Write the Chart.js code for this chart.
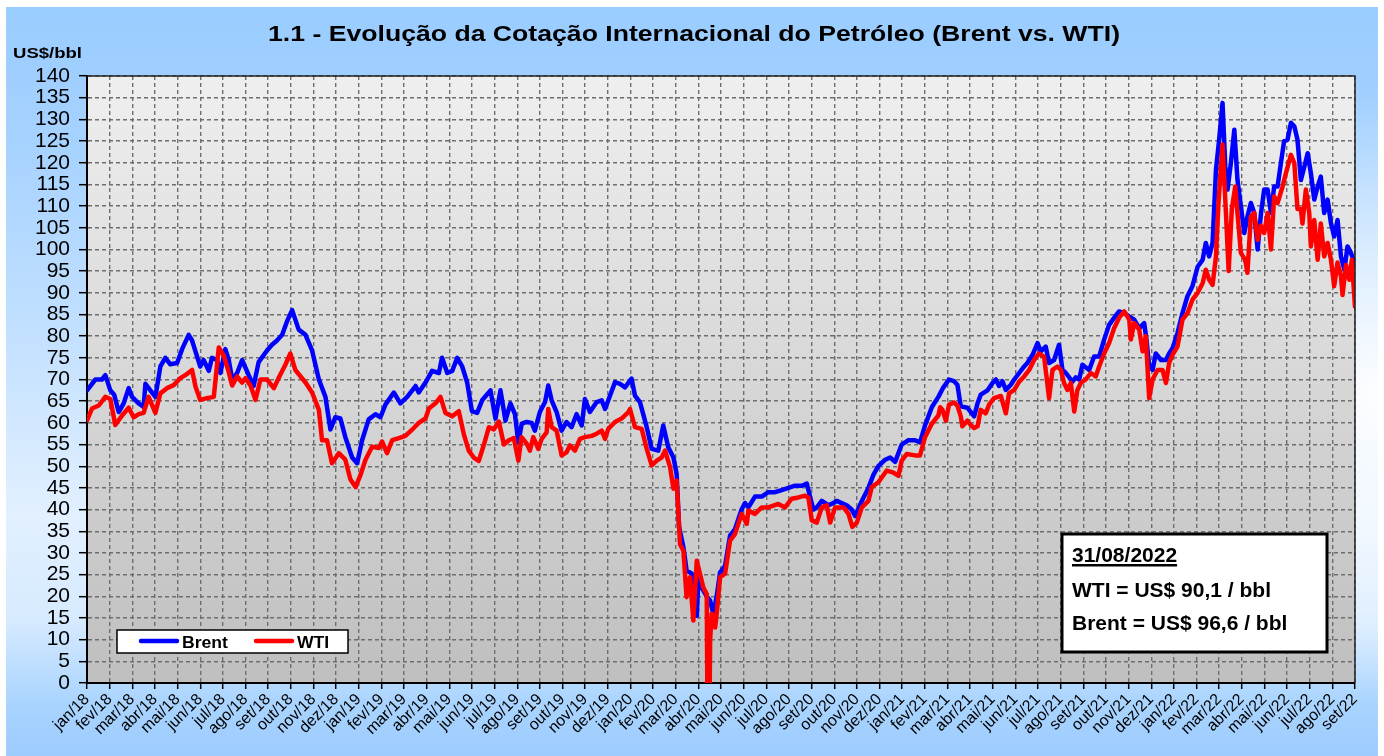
<!DOCTYPE html>
<html><head><meta charset="utf-8">
<script src="https://cdn.jsdelivr.net/npm/chart.js@4.4.0/dist/chart.umd.min.js"></script>
<style>
html,body{margin:0;padding:0;background:#fff;width:1384px;height:756px;overflow:hidden}
#bg{position:absolute;left:6px;top:7px;width:1372px;height:749px;
background:radial-gradient(ellipse 260px 300px at 100% 52%, rgba(255,255,255,0.95) 0%, rgba(255,255,255,0) 100%),
linear-gradient(180deg,#99ccff 0%,#a6d2ff 18%,#c4e1ff 45%,#e2f0ff 68%,#d6eaff 82%,#a9d4ff 93%,#9ccbfe 100%);}
#c{position:absolute;left:0;top:0}
</style></head><body><div id="bg"></div><canvas id="c" width="1384" height="756"></canvas>
<script>
const monthNames = ['jan','fev','mar','abr','mai','jun','jul','ago','set','out','nov','dez'];
const monthLabels = [];
for (let y = 18; y <= 22; y++) for (let m = 0; m < 12; m++) { if (y === 22 && m > 8) break; monthLabels.push(monthNames[m] + '/' + y); }

const titleText = '1.1 - Evolução da Cotação Internacional do Petróleo (Brent vs. WTI)';
const unitText = 'US$/bbl';
const noteLines = ['31/08/2022', 'WTI = US$ 90,1 / bbl', 'Brent = US$ 96,6 / bbl'];
const seriesNames = ['Brent', 'WTI'];

// positions in months since jan/18
const brentMonths = [0,0.37,0.66,0.81,1.03,1.2,1.4,1.62,1.84,1.99,2.28,2.5,2.58,3.02,3.24,3.46,3.68,3.98,4.2,4.49,4.64,4.79,5.0,5.15,5.38,5.52,5.74,5.89,6.11,6.26,6.41,6.63,6.85,7.14,7.36,7.58,7.95,8.17,8.39,8.62,8.84,9.06,9.35,9.65,9.94,10.24,10.53,10.75,10.97,11.19,11.41,11.71,11.93,12.15,12.44,12.74,12.96,13.18,13.55,13.84,14.14,14.51,14.65,14.95,15.24,15.54,15.68,15.91,16.13,16.35,16.57,16.79,17.0,17.23,17.45,17.82,18.04,18.26,18.48,18.7,18.9,19.05,19.2,19.42,19.64,19.78,20.0,20.23,20.37,20.52,20.74,20.96,21.18,21.4,21.62,21.85,21.99,22.21,22.51,22.73,22.88,23.1,23.32,23.54,23.76,24.05,24.2,24.42,24.72,24.94,25.23,25.45,25.67,25.9,26.04,26.15,26.34,26.48,26.71,26.83,26.93,27.0,27.15,27.37,27.52,27.66,27.81,27.96,28.18,28.4,28.62,28.91,29.06,29.21,29.5,29.8,30.09,30.39,30.68,30.98,31.27,31.57,31.79,31.93,32.08,32.23,32.45,32.74,32.96,33.11,33.33,33.55,33.77,33.92,34.22,34.51,34.73,34.95,35.25,35.47,35.69,35.98,36.28,36.57,36.79,37.01,37.31,37.6,37.8,38.07,38.29,38.44,38.59,38.88,39.18,39.33,39.47,39.77,39.99,40.14,40.28,40.43,40.58,40.8,40.95,41.17,41.39,41.53,41.76,41.98,42.12,42.34,42.49,42.71,42.93,43.08,43.23,43.52,43.67,43.82,43.96,44.26,44.48,44.7,44.92,45.14,45.36,45.58,45.81,46.03,46.25,46.47,46.69,46.79,46.91,47.06,47.2,47.43,47.65,47.79,47.94,48.16,48.38,48.6,48.82,49.05,49.27,49.41,49.56,49.71,49.86,50.0,50.15,50.27,50.37,50.52,50.67,50.81,50.96,51.11,51.25,51.4,51.55,51.7,51.85,51.99,52.14,52.29,52.43,52.58,52.73,52.87,53.02,53.17,53.32,53.46,53.61,53.76,53.91,54.05,54.2,54.35,54.49,54.64,54.79,54.94,55.08,55.23,55.38,55.53,55.67,55.82,56];
const brentValues = [67.5,70,70,71,67.5,66.5,62.5,64.5,68,66,64.5,63.7,69,66,73,75,73.5,73.8,77,80.3,79,76.5,73,74.5,72,75,74.5,71.5,77,74.5,70,71.5,74.5,71,68.5,74,76.7,78,79,80.3,83.5,86,81.5,80.3,76.7,70,66,58.5,61.3,61,56.7,52,50.7,56,60.8,62,61.3,64.2,67,64.5,66,68.5,67,69.3,72,71.5,75,71.5,72,75,73,69.3,62.7,62.3,65.2,67.5,61,67.5,60.5,64.5,62,55.5,59.8,60.2,60,58.2,62.5,64.8,68.6,65.2,62.5,58.2,60.2,59,62,59.4,65.5,62.5,64.8,65.2,63.2,66.3,69.4,69,68.2,70.2,66.3,64.8,59,54,53.6,59.4,54.4,52,48.2,36,31.3,26,25.2,22,15.5,24,22,20,19,16,20,25.5,27,34,35.5,40,41.5,40.5,43,43,44,44,44.5,45,45.5,45.5,46,43,40,40.5,42,41,41.5,42,41.5,41,40,38.5,42,45,48,50,51.5,52,51,55,56,56,55.5,59.4,63.6,66,68,70,69.6,68.8,63.8,63.5,61.5,64.5,66.5,67.5,69.2,70,68.5,69.6,67.6,68.8,70,71.5,73,73.8,75.7,78.4,76.5,77.6,73.8,74.5,78,72.2,71.5,69.5,70.5,70,73.4,72.2,75.3,75.3,79.2,82.6,84.2,85.7,85.3,84.5,83.8,81.8,83,79.2,73,72.2,76,74.5,74.5,76,77.2,80.7,85.3,89.2,91.5,96,97.6,101.5,98.4,101.5,118.4,125.3,133.8,119.2,113.8,120,127.6,116,110,103.8,107.6,110.7,108.4,100,108.4,113.8,113.8,108.4,114.5,114.5,120,125,125.3,129.2,128.4,125.3,116,119,122.2,117.6,111.5,114.5,116.8,108.4,111.5,106,103,106.8,98.4,95.3,100.7,99.2,96.6];

const wtiMonths = [0,0.22,0.52,0.81,1.03,1.25,1.55,1.84,2.06,2.28,2.5,2.72,3.02,3.24,3.53,3.83,4.12,4.34,4.64,4.79,5.0,5.3,5.6,5.82,6.04,6.26,6.41,6.63,6.85,7.0,7.22,7.44,7.66,7.95,8.25,8.47,8.76,8.98,9.2,9.65,9.94,10.24,10.38,10.6,10.82,11.12,11.41,11.63,11.86,12.08,12.3,12.59,12.89,13.03,13.25,13.48,13.77,14.06,14.43,14.65,14.95,15.1,15.39,15.61,15.83,16.13,16.42,16.64,16.86,17.08,17.3,17.53,17.75,17.97,18.19,18.41,18.63,18.85,19.05,19.19,19.42,19.56,19.71,19.93,20.08,20.3,20.37,20.52,20.74,20.96,21.18,21.33,21.55,21.77,21.99,22.29,22.51,22.73,22.88,23.02,23.32,23.61,23.91,23.98,24.2,24.5,24.72,24.94,25.16,25.38,25.53,25.75,25.9,26.04,26.19,26.34,26.48,26.63,26.78,26.93,27.07,27.22,27.37,27.44,27.52,27.59,27.74,27.81,27.96,28.18,28.4,28.62,28.91,29.14,29.21,29.5,29.8,30.09,30.53,30.83,31.12,31.42,31.71,31.86,32.01,32.23,32.45,32.67,32.82,33.04,33.41,33.63,33.8,34.0,34.22,34.51,34.66,34.95,35.32,35.62,35.84,35.98,36.2,36.57,36.79,37.01,37.31,37.6,37.68,37.78,37.93,38.07,38.29,38.44,38.59,38.66,38.88,39.03,39.18,39.33,39.47,39.69,39.84,40.06,40.36,40.58,40.72,40.95,41.17,41.39,41.61,41.83,42.05,42.27,42.49,42.64,42.86,43.01,43.15,43.3,43.45,43.6,43.74,43.89,44.11,44.33,44.55,44.7,44.92,45.14,45.36,45.58,45.81,46.03,46.1,46.25,46.47,46.62,46.76,46.91,47.06,47.28,47.5,47.65,47.79,47.94,48.16,48.38,48.6,48.82,49.05,49.27,49.41,49.56,49.71,49.86,49.97,50.15,50.3,50.42,50.56,50.71,50.81,50.96,51.15,51.25,51.4,51.55,51.7,51.84,51.99,52.14,52.29,52.43,52.58,52.8,52.95,53.17,53.32,53.46,53.61,53.68,53.83,53.98,54.05,54.2,54.35,54.49,54.64,54.79,54.94,55.08,55.23,55.38,55.45,55.6,55.75,55.86,56];
const wtiValues = [60.6,63.3,64,66,65.5,59.5,61.7,63.5,61.3,62,62.3,66,62.3,66.8,68,68.7,70.3,71,72.2,68.4,65.3,65.7,66,77.4,75.5,71.7,68.6,70.7,69.3,70.3,68.6,65.3,70,70,68,70.4,73.4,76,72.2,69.3,67,63,56,56,50.7,53,51.5,47,45.2,48,51.5,54.5,54.2,55.7,53,56,56.5,57,58.8,60,61,63.3,64.5,66,62.3,61.5,62.7,57.4,53.6,52,51.2,55,59,58.5,60.3,55,56,56.5,51.3,56.7,55.2,53.6,56.7,54,56.3,57.8,63.2,59,58.2,52.5,53.2,54.8,53.6,56.3,56.7,57,57.5,58.2,56.3,58.6,60.2,61,62.5,63.2,59,58.6,54,50.2,51.3,52,53.6,49.8,44.8,46.7,32,30.5,19.8,24.4,14.4,28.2,25.2,22,20.5,-37.6,10,16,12.8,16,24.4,25.2,32.8,34.4,39,36.7,39.8,39,40.5,40.5,41.3,40.5,42.5,42.8,43.2,42.8,37.5,37,40.5,41,37,40.5,40.5,39,36,37,40.5,42,45.2,46.3,49,48.5,47.8,51.3,52.8,52.5,52.5,56.7,59.8,61.7,63.6,63,60.5,64.2,64.7,64,61.5,59.2,60.5,59.5,58.8,59.2,63,62.2,64.2,65.7,66.2,62.2,66.8,67.6,69.5,70.7,72.2,74.5,76,75.2,65.7,72.2,73,72.2,69.2,67.6,69.2,62.6,67.6,69.2,70,71.5,70.7,73,76,78.4,81.8,84.2,85.7,83.8,79.2,83,81.5,76.5,80,65.7,70,72.2,72.2,69.2,73.8,75.7,77.6,83.8,85.3,88.4,90,92.2,95.3,93,91.8,98.4,110.7,124.2,108.4,95,109.3,114.5,108.4,99.2,97.6,94.6,107.6,108.4,102.2,105.5,103.8,108.4,100,112.2,110.7,114.5,117.6,121.8,119.9,109.3,109.3,106,113.8,108.4,100.7,106.8,97.6,106,98.4,101.5,97.6,91.5,97,93.8,89.5,96.4,93,97.6,86.8];

const pts = (xs, ys) => xs.map((x, i) => ({x: x, y: ys[i]}));
const FONT = "'Liberation Sans', Arial, sans-serif";

function sText(ctx, txt, x, y, font, sx, align) {
  ctx.save(); ctx.font = font; ctx.textBaseline = 'alphabetic'; ctx.textAlign = 'left';
  const w = ctx.measureText(txt).width * sx;
  const x0 = align === 'center' ? x - w / 2 : (align === 'right' ? x - w : x);
  ctx.translate(x0, y); ctx.scale(sx, 1); ctx.fillText(txt, 0, 0); ctx.restore();
  return w;
}

const deco = {
  id: 'deco',
  beforeDraw(chart) {
    const {ctx, chartArea: a} = chart;
    const g = ctx.createLinearGradient(0, a.top, 0, a.bottom);
    g.addColorStop(0, '#efefef'); g.addColorStop(1, '#bfbfbf');
    ctx.save(); ctx.fillStyle = g; ctx.fillRect(a.left, a.top, a.right - a.left, a.bottom - a.top); ctx.restore();
  },
  afterDraw(chart) {
    const {ctx, chartArea: a} = chart;
    ctx.save();
    ctx.strokeStyle = '#222'; ctx.lineWidth = 1.5;
    ctx.beginPath(); ctx.moveTo(a.left, a.top); ctx.lineTo(a.right, a.top); ctx.lineTo(a.right, a.bottom); ctx.stroke();
    ctx.fillStyle = '#000';
    ctx.font = 'bold 22px ' + FONT;
    const tw = ctx.measureText(titleText).width;
    sText(ctx, titleText, 694, 41, 'bold 22px ' + FONT, 852 / tw, 'center');
    ctx.font = 'bold 15px ' + FONT;
    const uw = ctx.measureText(unitText).width;
    sText(ctx, unitText, 13, 58, 'bold 15px ' + FONT, 69 / uw, 'left');
    // legend
    ctx.fillStyle = '#fff'; ctx.fillRect(117, 630, 231, 23);
    ctx.strokeStyle = '#000'; ctx.lineWidth = 1.5; ctx.strokeRect(117, 630, 231, 23);
    ctx.lineCap = 'round'; ctx.lineWidth = 4.5;
    ctx.strokeStyle = '#0000ff'; ctx.beginPath(); ctx.moveTo(141, 641); ctx.lineTo(177, 641); ctx.stroke();
    ctx.strokeStyle = '#ff0000'; ctx.beginPath(); ctx.moveTo(256, 641); ctx.lineTo(292, 641); ctx.stroke();
    ctx.fillStyle = '#000';
    sText(ctx, seriesNames[0], 182, 648, 'bold 16px ' + FONT, 1.1, 'left');
    sText(ctx, seriesNames[1], 297, 648, 'bold 16px ' + FONT, 1.1, 'left');
    // note box
    ctx.fillStyle = '#fff'; ctx.fillRect(1062, 534, 265, 118);
    ctx.strokeStyle = '#000'; ctx.lineWidth = 3; ctx.strokeRect(1062, 534, 265, 118);
    ctx.fillStyle = '#000';
    const dw = sText(ctx, noteLines[0], 1072, 562, 'bold 21px ' + FONT, 1, 'left');
    ctx.fillRect(1072, 564, dw, 2.5);
    sText(ctx, noteLines[1], 1072, 597, 'bold 21px ' + FONT, 1, 'left');
    sText(ctx, noteLines[2], 1072, 630, 'bold 21px ' + FONT, 1, 'left');
    ctx.restore();
  }
};

new Chart(document.getElementById('c'), {
  type: 'line',
  data: {
    datasets: [
      {label: seriesNames[1], data: pts(wtiMonths, wtiValues), borderColor: '#ff0000', borderWidth: 4.5, pointRadius: 0, tension: 0, borderJoinStyle: 'round', borderCapStyle: 'round', order: 0},
      {label: seriesNames[0], data: pts(brentMonths, brentValues), borderColor: '#0000ff', borderWidth: 4.5, pointRadius: 0, tension: 0, borderJoinStyle: 'round', borderCapStyle: 'round', order: 1}
    ]
  },
  options: {
    responsive: false, animation: false, parsing: true,
    layout: {padding: {left: 0, top: 76, right: 29, bottom: 0}},
    plugins: {legend: {display: false}, tooltip: {enabled: false}, title: {display: false}},
    scales: {
      x: {
        type: 'linear', min: 0, max: 56,
        ticks: {stepSize: 1, maxTicksLimit: 100, autoSkip: false, maxRotation: 45, minRotation: 45, color: '#000', padding: 1,
          font: {size: 16, family: FONT}, callback: (v) => monthLabels[v]},
        grid: {color: '#6e6e6e', lineWidth: 1.4, tickLength: 6, tickColor: '#000', tickWidth: 1.5},
        border: {display: true, color: '#000', width: 2, dash: [4, 3]},
        afterFit(s) { s.height = 73; }
      },
      y: {
        min: 0, max: 140,
        ticks: {stepSize: 5, maxTicksLimit: 100, autoSkip: false, color: '#000', padding: 9, font: {size: 21, family: FONT}},
        grid: {color: '#6e6e6e', lineWidth: 1.4, tickLength: 8, tickColor: '#000', tickWidth: 1.5},
        border: {display: true, color: '#000', width: 2, dash: [4, 3]},
        afterFit(s) { s.width = 87; }
      }
    }
  },
  plugins: [deco]
});
</script></body></html>
